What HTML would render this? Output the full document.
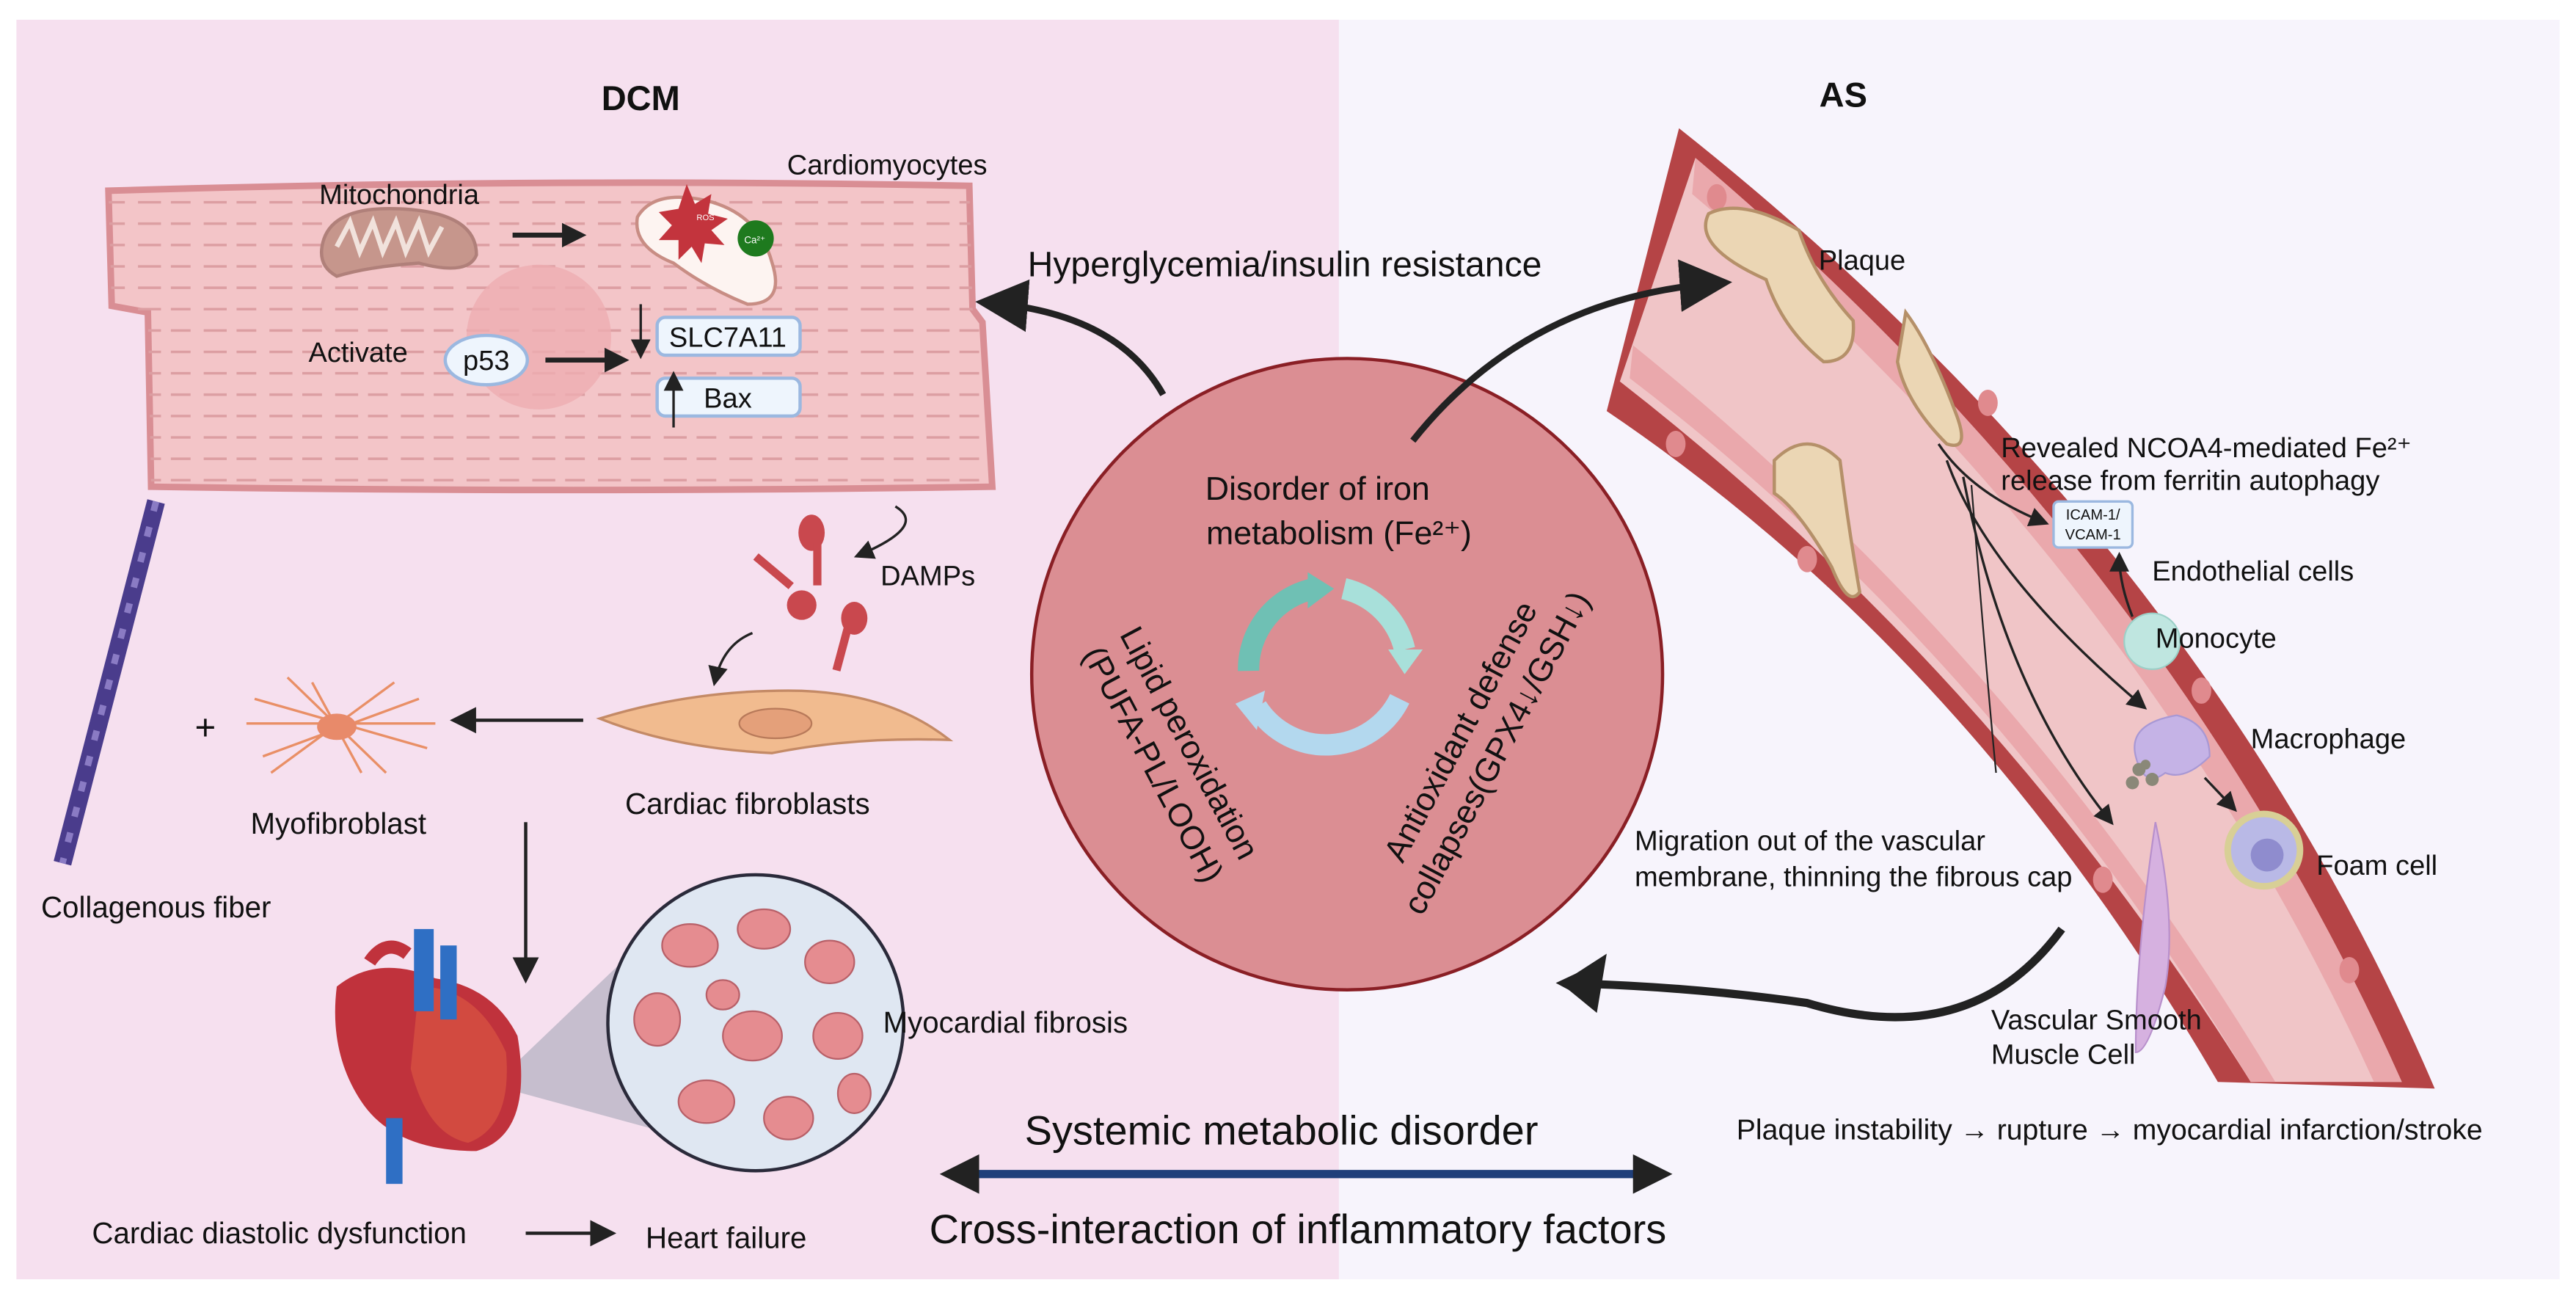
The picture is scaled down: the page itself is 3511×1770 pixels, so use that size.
<!DOCTYPE html>
<html><head><meta charset="utf-8"><style>
html,body{margin:0;padding:0;background:#fff;}
svg{display:block;}
text{font-family:"Liberation Sans",sans-serif;fill:#111;}
</style></head><body>
<svg width="3511" height="1770" viewBox="0 0 1568 790" preserveAspectRatio="none" xmlns="http://www.w3.org/2000/svg">
<defs>
<marker id="ah" viewBox="0 0 10 10" refX="8" refY="5" markerWidth="5" markerHeight="5" orient="auto"><path d="M0,0 L10,5 L0,10 z" fill="#222"/></marker>
<marker id="ahs" viewBox="0 0 10 10" refX="8" refY="5" markerWidth="8" markerHeight="8" orient="auto"><path d="M0,0 L10,5 L0,10 z" fill="#222"/></marker>
<marker id="ahb" viewBox="0 0 10 10" refX="6" refY="5" markerWidth="4" markerHeight="4" orient="auto"><path d="M0,0 L10,5 L0,10 z" fill="#222"/></marker>
<pattern id="str" width="40" height="13" patternUnits="userSpaceOnUse"><path d="M4,6 h14 M24,6 h12" stroke="#dc9ea2" stroke-width="1.5"/></pattern>
</defs>
<rect x="0" y="0" width="1568" height="790" fill="#fff"/>
<rect x="10" y="12" width="805" height="766" fill="#f6e0ef"/>
<rect x="815" y="12" width="743" height="766" fill="#f7f4fc"/>

<text x="390" y="67" font-size="21" font-weight="bold" text-anchor="middle">DCM</text>
<text x="1122" y="65" font-size="21" font-weight="bold" text-anchor="middle">AS</text>

<!-- cardiomyocyte -->
<path d="M66,116 Q330,108 590,113 L592,188 L598,196 L604,296 Q350,300 92,296 L90,190 L68,186 Z" fill="#f3c5c8" stroke="#d98e94" stroke-width="4"/>
<path d="M66,116 Q330,108 590,113 L592,188 L598,196 L604,296 Q350,300 92,296 L90,190 L68,186 Z" fill="url(#str)"/>
<circle cx="328" cy="205" r="44" fill="#eeadb2" opacity="0.8"/>
<text x="243" y="124" font-size="17" text-anchor="middle">Mitochondria</text>
<text x="540" y="106" font-size="17" text-anchor="middle">Cardiomyocytes</text>
<path d="M196,150 Q200,125 243,127 Q290,129 290,155 Q285,168 255,160 Q225,162 205,168 Q194,162 196,150Z" fill="#c6968c" stroke="#b0807a" stroke-width="2"/>
<path d="M205,150 l8,-15 l6,18 l8,-18 l6,18 l8,-18 l6,18 l8,-18 l6,18 l8,-15" stroke="#f1e2dc" stroke-width="3" fill="none"/>
<line x1="312" y1="143" x2="354" y2="143" stroke="#222" stroke-width="3" marker-end="url(#ah)"/>
<path d="M388,132 Q398,115 430,122 Q462,130 470,160 Q478,185 455,185 Q430,175 410,160 Q385,150 388,132Z" fill="#fdf4f1" stroke="#c88d84" stroke-width="2"/>
<path d="M418,112 l5,12 l10,-6 l-2,12 l12,3 l-10,7 l8,9 l-12,-1 l-2,12 l-6,-10 l-8,8 l0,-12 l-12,0 l8,-9 l-8,-8 l12,-2 z" fill="#c3343d"/>
<text x="424" y="134" font-size="5" style="fill:#fff">ROS</text>
<circle cx="460" cy="145" r="11" fill="#1e7a1e"/>
<text x="453" y="148" font-size="6" style="fill:#fff">Ca²⁺</text>
<text x="218" y="220" font-size="17" text-anchor="middle">Activate</text>
<ellipse cx="296" cy="219" rx="25" ry="15" fill="#eef5fd" stroke="#9bb8e0" stroke-width="2"/>
<text x="296" y="225" font-size="17" text-anchor="middle">p53</text>
<line x1="332" y1="219" x2="380" y2="219" stroke="#222" stroke-width="3" marker-end="url(#ah)"/>
<rect x="400" y="193" width="87" height="23" rx="5" fill="#eef5fd" stroke="#9bb8e0" stroke-width="2"/>
<text x="443" y="211" font-size="17" text-anchor="middle">SLC7A11</text>
<rect x="400" y="230" width="87" height="23" rx="5" fill="#eef5fd" stroke="#9bb8e0" stroke-width="2"/>
<text x="443" y="248" font-size="17" text-anchor="middle">Bax</text>
<line x1="390" y1="185" x2="390" y2="216" stroke="#222" stroke-width="1.5" marker-end="url(#ahs)"/>
<line x1="410" y1="260" x2="410" y2="228" stroke="#222" stroke-width="1.5" marker-end="url(#ahs)"/>

<!-- hyperglycemia -->
<text x="782" y="168" font-size="21.5" text-anchor="middle">Hyperglycemia/insulin resistance</text>
<path d="M708,240 Q680,190 600,184" stroke="#222" stroke-width="4" fill="none" marker-end="url(#ahs)"/>

<!-- DAMPs -->
<path d="M545,308 Q565,320 522,338" stroke="#222" stroke-width="1.5" fill="none" marker-end="url(#ahs)"/>
<text x="536" y="356" font-size="17">DAMPs</text>
<g fill="#c9484e">
<ellipse cx="494" cy="324" rx="8" ry="11"/><rect x="495" y="330" width="5" height="26"/>
<ellipse cx="488" cy="368" rx="9" ry="9"/><rect x="455" y="345" width="28" height="5" transform="rotate(40 470 350)"/>
<ellipse cx="520" cy="376" rx="8" ry="10"/><rect x="510" y="382" width="5" height="26" transform="rotate(15 512 395)"/>
</g>
<path d="M458,385 Q440,392 435,415" stroke="#222" stroke-width="1.5" fill="none" marker-end="url(#ahs)"/>
<path d="M365,437 Q420,420 480,420 Q540,420 578,450 Q520,448 470,458 Q410,455 365,437Z" fill="#f1bb8f" stroke="#c48a66" stroke-width="1.5"/>
<ellipse cx="472" cy="440" rx="22" ry="9" fill="#e4a07a" stroke="#b87a5a"/>
<text x="455" y="495" font-size="18" text-anchor="middle">Cardiac fibroblasts</text>
<line x1="355" y1="438" x2="277" y2="438" stroke="#222" stroke-width="2" marker-end="url(#ahs)"/>
<g stroke="#e98f66" stroke-width="1.5" fill="none">
<path d="M155,425 L260,455 M160,460 L255,425 M175,412 L235,470 M150,440 L265,440 M190,415 L220,470 M165,470 L240,415"/>
</g>
<ellipse cx="205" cy="442" rx="12" ry="8" fill="#e88a6a"/>
<text x="125" y="450" font-size="22" text-anchor="middle">+</text>
<text x="206" y="507" font-size="18" text-anchor="middle">Myofibroblast</text>
<line x1="95" y1="305" x2="38" y2="525" stroke="#4a3c8c" stroke-width="11"/>
<line x1="95" y1="305" x2="38" y2="525" stroke="#8a7bc4" stroke-width="4" stroke-dasharray="6 10"/>
<text x="95" y="558" font-size="18" text-anchor="middle">Collagenous fiber</text>
<line x1="320" y1="500" x2="320" y2="595" stroke="#222" stroke-width="2" marker-end="url(#ahs)"/>

<!-- heart -->
<polygon points="300,660 410,555 410,690" fill="#a6a6b8" opacity="0.6"/>
<path d="M205,600 Q230,580 265,595 Q300,600 315,630 Q325,690 290,700 Q240,700 220,670 Q200,640 205,600Z" fill="#c0323c"/>
<path d="M255,600 Q290,600 308,640 Q312,685 285,695 Q260,690 250,650Z" fill="#d24a40"/>
<rect x="252" y="565" width="12" height="50" fill="#2f6fc4"/>
<rect x="268" y="575" width="10" height="45" fill="#2f6fc4"/>
<path d="M225,585 Q235,570 248,580" stroke="#c0323c" stroke-width="8" fill="none"/>
<rect x="235" y="680" width="10" height="40" fill="#2f6fc4"/>
<circle cx="460" cy="622" r="90" fill="#dfe7f2" stroke="#2a2a3a" stroke-width="2"/>
<g fill="#e58c90" stroke="#b86068" stroke-width="1">
<ellipse cx="420" cy="575" rx="17" ry="13"/><ellipse cx="465" cy="565" rx="16" ry="12"/><ellipse cx="505" cy="585" rx="15" ry="13"/>
<ellipse cx="400" cy="620" rx="14" ry="16"/><ellipse cx="458" cy="630" rx="18" ry="15"/><ellipse cx="510" cy="630" rx="15" ry="14"/>
<ellipse cx="430" cy="670" rx="17" ry="13"/><ellipse cx="480" cy="680" rx="15" ry="13"/><ellipse cx="520" cy="665" rx="10" ry="12"/><ellipse cx="440" cy="605" rx="10" ry="9"/>
</g>
<text x="612" y="628" font-size="18" text-anchor="middle">Myocardial fibrosis</text>
<text x="170" y="756" font-size="18" text-anchor="middle">Cardiac diastolic dysfunction</text>
<line x1="320" y1="750" x2="372" y2="750" stroke="#222" stroke-width="2" marker-end="url(#ahs)"/>
<text x="442" y="759" font-size="18" text-anchor="middle">Heart failure</text>

<!-- central circle -->
<circle cx="820" cy="410" r="192" fill="#db8e93" stroke="#8a1f25" stroke-width="2"/>
<text x="802" y="304" font-size="20" text-anchor="middle">Disorder of iron</text>
<text x="815" y="331" font-size="20" text-anchor="middle">metabolism (Fe²⁺)</text>
<text font-size="20" text-anchor="middle" transform="translate(718,455) rotate(62)">Lipid peroxidation</text>
<text font-size="20" text-anchor="middle" transform="translate(696,468) rotate(62)">(PUFA-PL/LOOH)</text>
<text font-size="20" text-anchor="middle" transform="translate(895,448) rotate(-62)">Antioxidant defense</text>
<text font-size="20" text-anchor="middle" transform="translate(917,461) rotate(-62)">collapses(GPX4↓/GSH↓)</text>
<g fill="none" stroke-width="13">
<path d="M760,408 A50,50 0 0,1 800,358" stroke="#6fc0b4"/>
<path d="M818,358 A50,50 0 0,1 855,395" stroke="#a8e0da"/>
<path d="M852,425 A50,50 0 0,1 765,430" stroke="#b3d8ee"/>
</g>
<polygon points="796,348 812,358 796,370" fill="#6fc0b4"/>
<polygon points="845,395 866,395 855,410" fill="#a8e0da"/>
<polygon points="770,420 752,428 765,444" fill="#b3d8ee"/>

<!-- vessel -->
<path d="M1022,78 Q1340,330 1482,662 L1350,658 Q1200,400 978,250 Z" fill="#b54446"/>
<path d="M1032,96 Q1320,340 1462,658 L1370,658 Q1215,410 986,232 Z" fill="#f0c5c7"/>
<path d="M1032,96 Q1320,340 1462,658 L1445,658 Q1305,350 1030,118 Z" fill="#eaa8ac"/>
<path d="M992,230 Q1215,400 1370,658 L1385,658 Q1230,400 994,210 Z" fill="#eaa8ac"/>
<g fill="#e08a8e"><ellipse cx="1045" cy="120" rx="6" ry="8"/><ellipse cx="1210" cy="245" rx="6" ry="8"/><ellipse cx="1340" cy="420" rx="6" ry="8"/><ellipse cx="1430" cy="590" rx="6" ry="8"/><ellipse cx="1020" cy="270" rx="6" ry="8"/><ellipse cx="1100" cy="340" rx="6" ry="8"/><ellipse cx="1280" cy="535" rx="6" ry="8"/></g>
<g fill="#ebd6b4" stroke="#b59069" stroke-width="2">
<path d="M1040,130 Q1060,120 1095,140 Q1105,170 1128,195 Q1130,220 1110,220 Q1085,200 1075,170 Q1030,150 1040,130Z"/>
<path d="M1160,190 Q1175,210 1190,250 Q1200,275 1185,270 Q1160,245 1155,220Z"/>
<path d="M1080,280 Q1100,260 1120,280 Q1125,320 1132,360 Q1125,370 1115,345 Q1095,310 1080,300Z"/>
</g>
<text x="1107" y="164" font-size="17">Plaque</text>
<path d="M860,268 Q930,180 1048,172" stroke="#222" stroke-width="4" fill="none" marker-end="url(#ahs)"/>
<path d="M1180,270 Q1200,300 1245,318" stroke="#222" stroke-width="1.5" fill="none" marker-end="url(#ahs)"/>
<path d="M1185,280 Q1210,350 1305,430" stroke="#222" stroke-width="1.5" fill="none" marker-end="url(#ahs)"/>
<path d="M1195,290 Q1220,420 1285,500" stroke="#222" stroke-width="1.5" fill="none" marker-end="url(#ahs)"/>
<path d="M1200,295 Q1210,420 1215,470" stroke="#222" stroke-width="1" fill="none"/>
<text x="1218" y="278" font-size="17">Revealed NCOA4-mediated Fe²⁺</text>
<text x="1218" y="298" font-size="17">release from ferritin autophagy</text>
<rect x="1250" y="305" width="48" height="28" rx="3" fill="#eef5fd" stroke="#9bb8e0" stroke-width="1.5"/>
<text x="1274" y="316" font-size="9" text-anchor="middle">ICAM-1/</text>
<text x="1274" y="328" font-size="9" text-anchor="middle">VCAM-1</text>
<path d="M1298,375 Q1290,355 1290,338" stroke="#222" stroke-width="1.5" fill="none" marker-end="url(#ahs)"/>
<text x="1310" y="353" font-size="17">Endothelial cells</text>
<circle cx="1310" cy="390" r="17" fill="#bfe6e0" stroke="#9cd0c8"/>
<text x="1312" y="394" font-size="17">Monocyte</text>
<path d="M1325,435 Q1345,440 1345,460 Q1330,475 1318,470 Q1305,480 1300,460 Q1295,440 1325,435Z" fill="#c5b3e6" stroke="#a898d4"/>
<g fill="#8a8878"><circle cx="1302" cy="468" r="4"/><circle cx="1310" cy="474" r="4"/><circle cx="1298" cy="476" r="4"/><circle cx="1306" cy="465" r="3"/></g>
<text x="1370" y="455" font-size="17">Macrophage</text>
<line x1="1342" y1="473" x2="1360" y2="492" stroke="#222" stroke-width="1.5" marker-end="url(#ahs)"/>
<circle cx="1378" cy="517" r="22" fill="#b9b9e6" stroke="#d8cf96" stroke-width="4"/>
<circle cx="1380" cy="520" r="10" fill="#8f8cce"/>
<text x="1410" y="532" font-size="17">Foam cell</text>
<path d="M1312,500 Q1325,560 1318,600 Q1308,640 1300,640 Q1300,580 1312,500Z" fill="#d6b1e0" stroke="#b890cc"/>
<text x="995" y="517" font-size="17">Migration out of the vascular</text>
<text x="995" y="539" font-size="17">membrane, thinning the fibrous cap</text>
<path d="M1255,565 Q1200,640 1100,610 Q1030,600 955,598" stroke="#222" stroke-width="5" fill="none" marker-end="url(#ahb)"/>
<polygon points="950,598 978,580 972,616" fill="#222"/>
<text x="1212" y="626" font-size="17">Vascular Smooth</text>
<text x="1212" y="647" font-size="17">Muscle Cell</text>
<text x="1057" y="693" font-size="17.5">Plaque instability → rupture → myocardial infarction/stroke</text>

<!-- bottom -->
<text x="780" y="696" font-size="25" text-anchor="middle">Systemic metabolic disorder</text>
<line x1="590" y1="714" x2="1000" y2="714" stroke="#1f3f7a" stroke-width="5"/>
<polygon points="572,714 596,702 596,726" fill="#222"/>
<polygon points="1018,714 994,702 994,726" fill="#222"/>
<text x="790" y="756" font-size="25" text-anchor="middle">Cross-interaction of inflammatory factors</text>
</svg>
</body></html>
